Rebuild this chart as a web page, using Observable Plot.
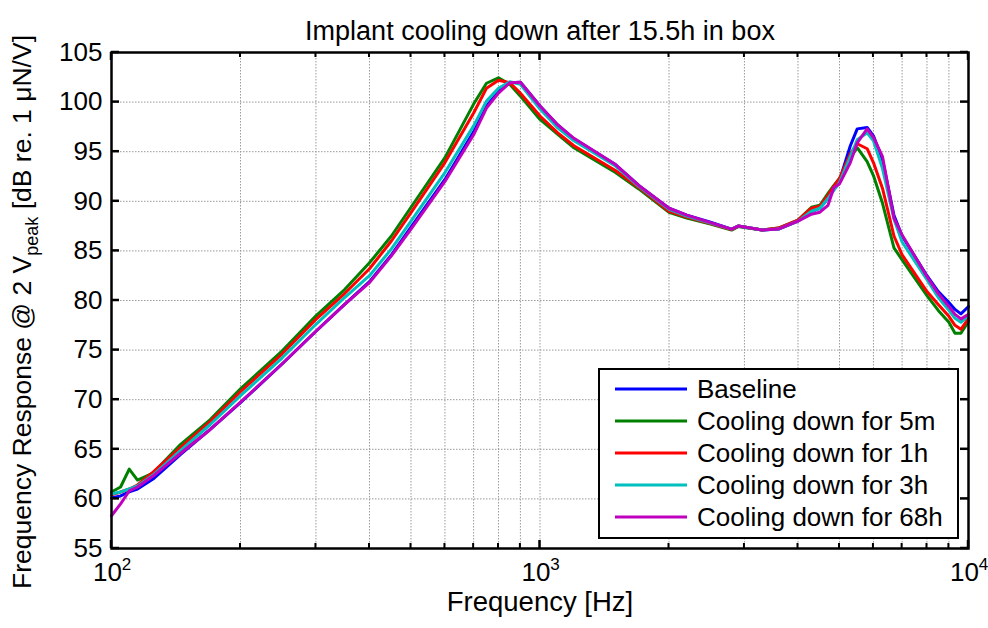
<!DOCTYPE html>
<html>
<head>
<meta charset="utf-8">
<script src="https://cdn.jsdelivr.net/npm/d3@7"></script>
<script src="https://cdn.jsdelivr.net/npm/@observablehq/plot@0.6"></script>
<style>
  body { margin: 0; background: #fff; }
  #chart svg { display: block; }
</style>
</head>
<body>
<div id="chart"></div>
<script>
// ---- data ----
const freqs = [100,105,110,115,125,145,170,200,250,300,350,400,450,500,600,700,750,800,850,900,1000,1100,1200,1500,1700,2000,2200,2500,2800,2900,3000,3300,3600,4000,4300,4500,4700,4850,5000,5300,5500,5800,6000,6300,6700,7000,8000,8500,9000,9300,9600,10000];

const baseline = [60.1,60.3,60.7,61.0,62.0,64.5,67.0,69.7,73.6,76.9,79.6,81.9,84.6,87.4,92.2,97.0,99.6,101.1,101.95,102.0,99.6,97.7,96.3,93.7,91.6,89.3,88.6,87.9,87.2,87.5,87.4,87.1,87.2,88.0,89.0,89.3,90.3,91.2,92.1,95.6,97.3,97.45,96.6,94.2,88.6,86.5,82.5,80.9,79.8,79.1,78.65,79.4];
const cool5m = [60.7,61.2,63.0,61.9,62.6,65.5,68.0,71.1,74.9,78.45,81.1,83.8,86.5,89.4,94.4,99.8,101.9,102.45,101.8,100.6,98.25,96.75,95.4,92.9,91.25,88.9,88.3,87.7,87.1,87.45,87.35,87.1,87.3,88.1,89.4,89.6,90.8,91.6,92.3,94.4,95.4,94.0,92.6,89.8,85.3,84.1,80.5,79.0,77.8,76.7,76.7,77.9];
const cool1h = [60.4,60.7,61.0,61.4,62.7,65.2,67.8,70.8,74.6,78.1,80.7,83.2,86.0,88.85,93.9,98.9,101.4,102.2,101.95,100.9,98.6,96.9,95.6,93.1,91.4,89.0,88.4,87.75,87.15,87.5,87.4,87.1,87.3,88.1,89.3,89.5,90.6,91.5,92.3,94.8,95.8,95.3,93.9,91.3,86.5,84.6,80.9,79.6,78.4,77.5,77.1,78.2];
const cool3h = [60.5,60.7,61.0,61.3,62.4,64.9,67.5,70.4,74.2,77.6,80.3,82.5,85.2,88.0,92.9,97.6,100.1,101.4,102.05,101.8,99.3,97.4,96.1,93.55,91.5,89.2,88.5,87.8,87.2,87.5,87.4,87.1,87.2,88.0,89.0,89.3,90.3,91.1,91.9,94.5,96.2,96.9,96.1,93.3,88.2,85.9,82.1,80.3,79.0,78.2,77.8,78.5];
const cool68h = [58.3,59.5,60.8,61.2,62.3,64.6,67.0,69.75,73.6,76.9,79.6,81.8,84.5,87.2,92.0,96.7,99.4,100.9,101.95,102.0,99.6,97.7,96.35,93.7,91.6,89.3,88.6,87.85,87.2,87.5,87.4,87.1,87.2,88.0,88.7,88.9,89.6,91.4,91.75,93.9,95.9,97.3,96.45,94.5,88.3,86.6,82.4,80.7,79.4,78.6,78.15,78.6];

const seriesNames = ["Baseline","Cooling down for 5m","Cooling down for 1h","Cooling down for 3h","Cooling down for 68h"];
const seriesColors = ["#0000ff","#008000","#ff0000","#00bfbf","#bf00bf"];
const seriesValues = [baseline, cool5m, cool1h, cool3h, cool68h];

const yTicks = [55,60,65,70,75,80,85,90,95,100,105];
const xMajor = [100,1000,10000];
const xMajorBase = ["10","10","10"];
const xMajorExp = ["2","3","4"];
const xMinor = [200,300,400,500,600,700,800,900,2000,3000,4000,5000,6000,7000,8000,9000];

const titleText = "Implant cooling down after 15.5h in box";
const xLabel = "Frequency [Hz]";

// ---- build table ----
const rows = [];
seriesNames.forEach((name, i) => {
  freqs.forEach((f, j) => rows.push({series: name, f, v: seriesValues[i][j]}));
});

const FONT = "'Liberation Sans', Arial, Helvetica, sans-serif";

const chart = Plot.plot({
  width: 988,
  height: 628,
  marginLeft: 111,
  marginRight: 20,
  marginTop: 52,
  marginBottom: 80,
  style: {fontFamily: FONT, fontSize: "26px", background: "#fff", color: "#000"},
  x: {type: "log", domain: [100, 10000], axis: null},
  y: {domain: [55, 105]},
  color: {domain: seriesNames, range: seriesColors},
  marks: [
    Plot.gridX(xMinor.concat([1000]), {stroke: "#9a9a9a", strokeOpacity: 1, strokeDasharray: "1.5,1.5", strokeWidth: 1}),
    Plot.gridY(yTicks.slice(1, -1), {stroke: "#9a9a9a", strokeOpacity: 1, strokeDasharray: "1.5,1.5", strokeWidth: 1}),
    Plot.line(rows, {x: "f", y: "v", z: "series", stroke: "series", strokeWidth: 3, strokeLinejoin: "round", strokeLinecap: "round"}),
    Plot.frame({stroke: "#000", strokeWidth: 2.5}),
    // y tick labels
    Plot.axisY(yTicks, {anchor: "left", tickSize: 0, tickPadding: 9, stroke: "none", fontSize: 26, label: null}),
    // x tick labels 10^n
    Plot.text(xMajor, {x: d => d, text: (d, i) => xMajorBase[i], frameAnchor: "bottom", dy: 32, dx: -4, fontSize: 26, textAnchor: "middle"}),
    Plot.text(xMajor, {x: d => d, text: (d, i) => xMajorExp[i], frameAnchor: "bottom", dy: 21, dx: 15, fontSize: 17, textAnchor: "middle"}),
    // x label and title
    Plot.text([xLabel], {text: d => d, frameAnchor: "bottom", dy: 62, fontSize: 27.5}),
    Plot.text([titleText], {text: d => d, frameAnchor: "top", dy: -32, fontSize: 27})
  ]
});

document.getElementById("chart").appendChild(chart);
const svg = d3.select(chart);

// ---- inward tick marks, positioned with the plot's own scales ----
const sx = chart.scale("x"), sy = chart.scale("y");
const [L, R] = sx.range, [B, T] = sy.range;
const tk = svg.append("g").attr("stroke", "#000");
yTicks.forEach(v => {
  const y = sy.apply(v);
  tk.append("line").attr("x1", L).attr("x2", L + 8).attr("y1", y).attr("y2", y).attr("stroke-width", 2.5);
  tk.append("line").attr("x1", R).attr("x2", R - 8).attr("y1", y).attr("y2", y).attr("stroke-width", 2.5);
});
xMajor.forEach(v => {
  const x = sx.apply(v);
  tk.append("line").attr("x1", x).attr("x2", x).attr("y1", B).attr("y2", B - 8).attr("stroke-width", 2.5);
  tk.append("line").attr("x1", x).attr("x2", x).attr("y1", T).attr("y2", T + 8).attr("stroke-width", 2.5);
});
xMinor.forEach(v => {
  const x = sx.apply(v);
  tk.append("line").attr("x1", x).attr("x2", x).attr("y1", B).attr("y2", B - 5).attr("stroke-width", 2);
  tk.append("line").attr("x1", x).attr("x2", x).attr("y1", T).attr("y2", T + 5).attr("stroke-width", 2);
});

// ---- y axis label with subscript ----
const yl = svg.append("text")
  .attr("transform", "translate(31,312) rotate(-90)")
  .attr("text-anchor", "middle")
  .attr("font-family", FONT)
  .attr("font-size", 26.5)
  .attr("fill", "#000");
yl.append("tspan").text("Frequency Response @ 2 V");
yl.append("tspan").attr("font-size", 18).attr("dy", 7).text("peak");
yl.append("tspan").attr("dy", -7).text(" [dB re. 1 \u03BCN/V]");

// ---- legend ----
const lg = svg.append("g").attr("font-family", FONT).attr("font-size", 26).attr("text-anchor", "start");
lg.append("rect").attr("x", 599).attr("y", 369).attr("width", 359).attr("height", 169)
  .attr("fill", "#fff").attr("stroke", "#000").attr("stroke-width", 2);
seriesNames.forEach((name, i) => {
  const cy = 389 + i * 32;
  lg.append("line").attr("x1", 615).attr("x2", 687).attr("y1", cy).attr("y2", cy)
    .attr("stroke", seriesColors[i]).attr("stroke-width", 3);
  lg.append("text").attr("x", 697).attr("y", cy).attr("dy", "0.35em").attr("text-anchor", "start").attr("fill", "#000").text(name);
});
</script>
</body>
</html>
